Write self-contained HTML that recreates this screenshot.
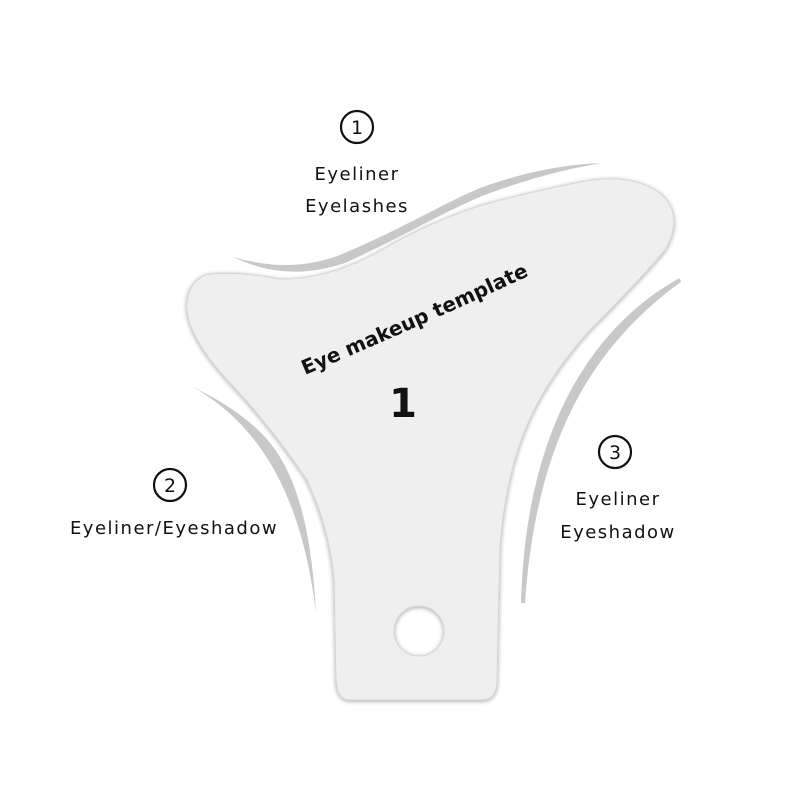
<!DOCTYPE html>
<html><head><style>
html,body{margin:0;padding:0;background:#fff;}
svg{display:block;}
.l{font-family:"DejaVu Sans","Liberation Sans",sans-serif;font-size:18px;letter-spacing:1.5px;fill:#111;}
.c{font-family:"DejaVu Sans",sans-serif;font-size:19px;fill:#111;}
</style></head><body>
<svg width="800" height="800" viewBox="0 0 800 800">
<defs>
<filter id="sh" x="-10%" y="-10%" width="120%" height="120%"><feGaussianBlur in="SourceAlpha" stdDeviation="2"/><feOffset dx="0" dy="1"/><feComponentTransfer><feFuncA type="linear" slope="0.35"/></feComponentTransfer><feMerge><feMergeNode/><feMergeNode in="SourceGraphic"/></feMerge></filter>
<path id="tp" d="M305,375 Q430,322 552,265"/>
</defs>
<!-- gray arcs -->
<path d="M233,257 C265,266 300,270 340,255 C400,230 440,205 480,188 C530,170 570,164 603,163 C570,168 530,178 482,196 C440,214 400,238 345,263 C300,278 265,272 233,257 Z" fill="#c8c8c8"/>
<path d="M193,387 C250,420 300,480 316,613 C312,540 300,470 260,432 C240,412 215,398 193,387 Z" fill="#c8c8c8"/>
<path d="M680,280 C600,325 528,420 523,603 C534,440 590,345 680,280 Z" fill="#c8c8c8" stroke="#c8c8c8" stroke-width="4"/>
<!-- template shape -->
<path filter="url(#sh)" fill="#efefef" stroke="#d4d4d4" stroke-width="1" fill-rule="evenodd" d="
M350,700 L482,700 Q497,700 497,680 L500,547 Q505,480 525,430 Q545,380 590,330 Q640,280 665,250 Q685,215 660,193 Q630,172 580,182 Q530,192 482,205 Q430,222 385,248 Q330,280 280,279 Q230,270 205,275 Q185,285 187,310 Q190,340 230,383 Q270,425 307,480 Q330,530 334,580 L336,680 Q337,700 350,700 Z
M419,631 m-25,0 a25,25 0 1,0 50,0 a25,25 0 1,0 -50,0 Z"/>
<!-- title -->
<text font-family="'DejaVu Sans','Liberation Sans',sans-serif" font-weight="bold" font-size="20" fill="#111"><textPath href="#tp">Eye makeup template</textPath></text>
<text x="403" y="417" text-anchor="middle" font-family="'DejaVu Sans','Liberation Sans',sans-serif" font-weight="bold" font-size="40" fill="#111">1</text>
<!-- circled numbers -->
<g fill="none" stroke="#111" stroke-width="2.2">
<circle cx="357" cy="127" r="16"/><circle cx="170" cy="485" r="16"/><circle cx="615" cy="452" r="16"/>
</g>
<text class="c" x="357" y="134" text-anchor="middle">1</text>
<text class="c" x="170" y="492" text-anchor="middle">2</text>
<text class="c" x="615" y="459" text-anchor="middle">3</text>
<!-- labels -->
<text class="l" x="357" y="180" text-anchor="middle">Eyeliner</text>
<text class="l" x="357" y="212" text-anchor="middle">Eyelashes</text>
<text class="l" x="174" y="534" text-anchor="middle">Eyeliner/Eyeshadow</text>
<text class="l" x="618" y="505" text-anchor="middle">Eyeliner</text>
<text class="l" x="618" y="538" text-anchor="middle">Eyeshadow</text>
</svg>
</body></html>
